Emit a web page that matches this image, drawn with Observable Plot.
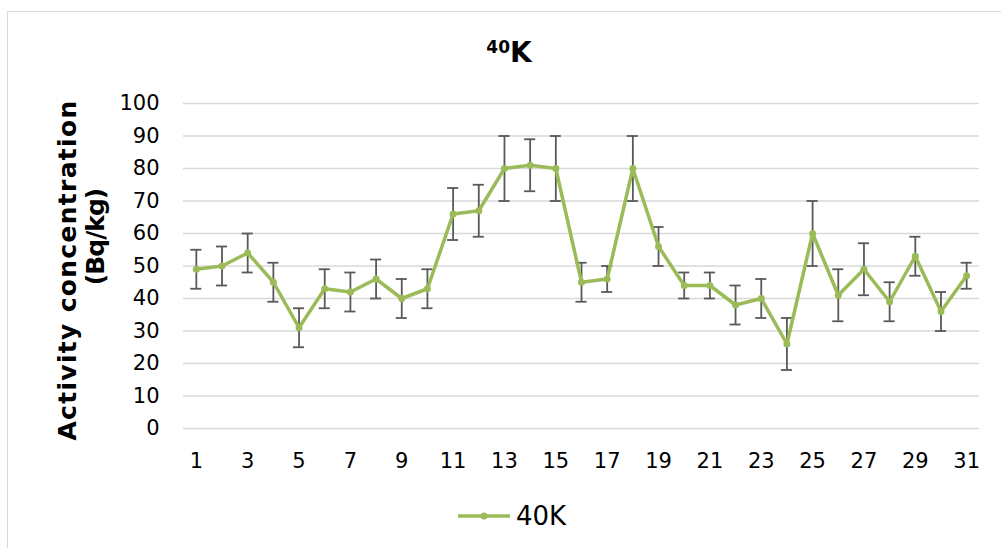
<!DOCTYPE html>
<html>
<head>
<meta charset="utf-8">
<script src="https://cdn.jsdelivr.net/npm/d3@7"></script>
<script src="https://cdn.jsdelivr.net/npm/@observablehq/plot@0.6"></script>
<style>
  body { margin: 0; background: #fff; }
  #chart {
    position: relative; width: 1001px; height: 548px; overflow: hidden;
    font-family: "DejaVu Sans", Verdana, sans-serif; color: #000;
  }
  #border {
    position: absolute; left: 7px; top: 11px; width: 1100px; height: 700px;
    border: 1px solid #d9d9d9;
  }
  #plot { position: absolute; left: 0; top: 0; }
  #title {
    position: absolute; left: 509px; top: 52px; transform: translate(-50%, -50%);
    font-weight: bold; font-size: 28px; white-space: nowrap;
  }
  #title sup { font-size: 17px; vertical-align: 0.5em; }
  .ytitle {
    position: absolute; font-weight: bold; font-size: 25px; white-space: nowrap;
    transform: translate(-50%, -50%) rotate(-90deg);
  }
  #legend {
    position: absolute; left: 458px; top: 516px; transform: translateY(-50%);
    display: flex; align-items: center; font-size: 26px;
  }
  #legend svg { margin-right: 6px; }
</style>
</head>
<body>
<div id="chart">
  <div id="border"></div>
  <div id="plot"></div>
  <div id="title"><sup>40</sup>K</div>
  <div class="ytitle" style="left:67px; top:270px; letter-spacing:1.3px;">Activity concentration</div>
  <div class="ytitle" style="left:95px; top:237px; letter-spacing:-1px;">(Bq/kg)</div>
  <div id="legend">
    <svg width="52" height="10"><line x1="0" x2="52" y1="5" y2="5" stroke="#9bbb59" stroke-width="3.5"/><circle cx="26" cy="5" r="3.5" fill="#9bbb59"/></svg>
    <span>40K</span>
  </div>
</div>
<script>
// Sample numbers along the x axis
const samples = [1, 2, 3, 4, 5, 6, 7, 8, 9, 10, 11, 12, 13, 14, 15, 16,
                 17, 18, 19, 20, 21, 22, 23, 24, 25, 26, 27, 28, 29, 30, 31];
// 40K activity concentration (Bq/kg) for each sample
const activity = [49, 50, 54, 45, 31, 43, 42, 46, 40, 43, 66, 67, 80, 81, 80, 45,
                  46, 80, 56, 44, 44, 38, 40, 26, 60, 41, 49, 39, 53, 36, 47];
// Measurement uncertainty (±) for each sample
const uncertainty = [6, 6, 6, 6, 6, 6, 6, 6, 6, 6, 8, 8, 10, 8, 10, 6,
                     4, 10, 6, 4, 4, 6, 6, 8, 10, 8, 8, 6, 6, 6, 4];
// Axis tick labels
const xTicks = [1, 3, 5, 7, 9, 11, 13, 15, 17, 19, 21, 23, 25, 27, 29, 31];
const yTicks = [0, 10, 20, 30, 40, 50, 60, 70, 80, 90, 100];

const rows = samples.map((s, i) => ({
  sample: s,
  value: activity[i],
  low: activity[i] - uncertainty[i],
  high: activity[i] + uncertainty[i]
}));

const green = "#9bbb59";
const barColor = "#595959";

const chart = Plot.plot({
  width: 1001,
  height: 548,
  marginLeft: 183,
  marginRight: 22,
  marginTop: 103,
  marginBottom: 120,
  style: { fontFamily: "DejaVu Sans, Verdana, sans-serif", fontSize: "21px", color: "#000", background: "transparent" },
  x: { type: "band", domain: samples, padding: 0, round: false, label: null },
  y: { domain: [0, 100], label: null },
  marks: [
    Plot.gridY(yTicks, { stroke: "#d9d9d9", strokeOpacity: 1, strokeWidth: 1.5 }),
    Plot.axisY(yTicks, { tickSize: 0, tickPadding: 24, label: null, fontSize: 21 }),
    Plot.axisX(xTicks, { tickSize: 0, tickPadding: 25, label: null, fontSize: 21 }),
    // error bars with caps
    Plot.ruleX(rows, { x: "sample", y1: "low", y2: "high", stroke: barColor, strokeWidth: 1.8 }),
    Plot.tickY(rows, { x: "sample", y: "high", stroke: barColor, strokeWidth: 1.8, insetLeft: 7.3, insetRight: 7.3 }),
    Plot.tickY(rows, { x: "sample", y: "low", stroke: barColor, strokeWidth: 1.8, insetLeft: 7.3, insetRight: 7.3 }),
    // series line with markers
    Plot.line(rows, { x: "sample", y: "value", stroke: green, strokeWidth: 3.5 }),
    Plot.dot(rows, { x: "sample", y: "value", r: 3.5, fill: green, stroke: "none" })
  ]
});
document.getElementById("plot").appendChild(chart);
</script>
</body>
</html>
